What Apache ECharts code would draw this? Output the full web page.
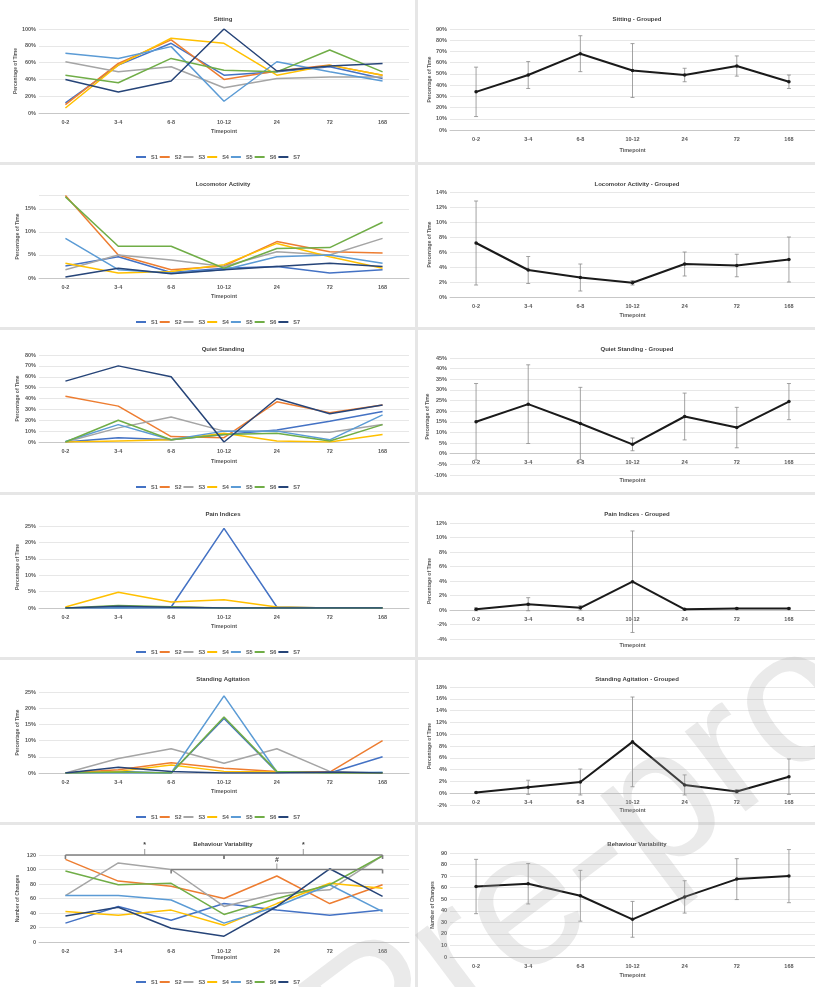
<!DOCTYPE html>
<html>
<head>
<meta charset="utf-8">
<script src="https://cdn.jsdelivr.net/npm/echarts@6/dist/echarts.min.js"></script>
<style>
  html, body { margin: 0; padding: 0; background: #ffffff; }
  #chart { width: 815px; height: 987px; }
</style>
</head>
<body>
<div id="chart"></div>
<script>
// ---- categories and subjects ----
const timepoints = ['0-2', '3-4', '6-8', '10-12', '24', '72', '168'];
const subjects = ['S1', 'S2', 'S3', 'S4', 'S5', 'S6', 'S7'];

// ---- individual subjects (one row per subject S1..S7), % of time ----
const sitting = [
  [12, 57, 83, 45, 49, 55, 41],
  [10, 59, 87, 40, 50, 57, 45],
  [61, 49, 55, 30, 41, 43, 43],
  [6, 57, 89, 83, 45, 57, 45],
  [71, 65, 79, 14, 61, 49, 38],
  [45, 36, 65, 51, 49, 75, 49],
  [40, 25, 38, 100, 50, 56, 59]
];
const locomotor = [
  [2.6, 4.6, 1.2, 2.1, 2.5, 1.1, 1.8],
  [17.9, 5.0, 1.8, 2.6, 7.9, 5.7, 5.4],
  [1.8, 5.0, 3.9, 2.5, 5.7, 5.0, 8.6],
  [3.2, 1.1, 1.4, 2.9, 7.5, 4.6, 2.1],
  [8.6, 1.8, 1.1, 1.8, 4.6, 5.0, 3.2],
  [17.6, 6.9, 6.9, 2.1, 6.4, 6.6, 12.1],
  [0.2, 2.1, 0.9, 1.8, 2.5, 3.2, 2.5]
];
const quietStanding = [
  [0, 4, 2, 7, 11, 19, 28],
  [42, 33, 5, 4, 37, 27, 34],
  [0, 13, 23, 10, 10, 9, 16],
  [0, 1, 2, 8, 1, 0, 7],
  [0.5, 16, 2, 10, 10, 2, 25],
  [0, 20, 2, 7, 8, 1, 16],
  [56, 70, 60, 0, 40, 26, 34]
];
const painIndices = [
  [0, 0, 0.3, 24.3, 0.3, 0, 0],
  [0, 0.3, 0.2, 0, 0, 0, 0],
  [0, 0.2, 0.1, 0, 0, 0, 0],
  [0.3, 4.8, 1.8, 2.5, 0.3, 0, 0],
  [0, 0.1, 0, 0, 0, 0, 0],
  [0, 0.8, 0.4, 0, 0, 0, 0],
  [0, 0.5, 0.2, 0, 0, 0, 0]
];
const standingAgitation = [
  [0, 0.5, 0, 16.8, 0.3, 0, 5],
  [0, 1, 3.2, 1.5, 0.5, 0.3, 10],
  [0, 4.5, 7.5, 3, 7.5, 0.5, 0],
  [0, 0.5, 2.5, 0.5, 0.3, 0, 0],
  [0, 0, 0, 23.8, 0.3, 0, 0.2],
  [0, 0.3, 0, 17.3, 0.5, 0, 0],
  [0, 1.8, 0.5, 0, 0, 0.3, 0]
];
const behaviourVariability = [
  [26, 49, 30, 53, 44, 37, 44],
  [114, 84, 77, 60, 91, 53, 79],
  [64, 109, 100, 49, 67, 72, 119],
  [42, 37, 44, 23, 53, 81, 74],
  [64, 64, 58, 26, 49, 79, 42],
  [98, 79, 81, 38, 60, 79, 119],
  [36, 48, 19, 8, 49, 101, 63]
];

// ---- grouped means and error bar half-widths ----
const sittingMean = [34, 49, 68, 53, 49, 57, 43];
const sittingErr = [22, 12, 16, 24, 6, 9, 6];
const locomotorMean = [7.2, 3.6, 2.6, 1.9, 4.4, 4.2, 5.0];
const locomotorErr = [5.6, 1.8, 1.8, 0.3, 1.6, 1.5, 3.0];
const quietMean = [15, 23.3, 14.2, 4.4, 17.5, 12.3, 24.5];
const quietErr = [18, 18.5, 17, 3, 11, 9.5, 8.5];
const painMean = [0.1, 0.8, 0.3, 3.9, 0.1, 0.2, 0.2];
const painErr = [0.2, 0.9, 0.3, 7, 0.1, 0.1, 0.1];
const agitationMean = [0.1, 1.0, 1.9, 8.7, 1.4, 0.3, 2.8];
const agitationErr = [0.1, 1.2, 2.2, 7.6, 1.7, 0.3, 3.0];
const variabilityMean = [61, 63.4, 53, 32.6, 52, 67.4, 70];
const variabilityErr = [23.5, 17.5, 22, 15.5, 14, 17.7, 23];

// significance brackets: [from category, to category, level]
const variabilityBrackets = [[0, 3, 120], [3, 6, 120], [2, 6, 100]];
const variabilityMarks = ['*', '*', '#'];

// ---- axis ranges [min, max, interval] ----
const sittingAxis = [0, 100, 20];
const locomotorAxis = [0, 18, 5];
const quietAxis = [0, 80, 10];
const painAxis = [0, 25, 5];
const agitationAxis = [0, 25, 5];
const variabilityAxis = [0, 120, 20];
const sittingGroupedAxis = [0, 90, 10];
const locomotorGroupedAxis = [0, 14, 2];
const quietGroupedAxis = [-10, 45, 5];
const painGroupedAxis = [-4, 12, 2];
const agitationGroupedAxis = [-2, 18, 2];
const variabilityGroupedAxis = [0, 90, 10];

// ---- styling / layout ----
const subjectColors = ['#4472C4', '#ED7D31', '#A5A5A5', '#FFC000', '#5B9BD5', '#70AD47', '#264478'];
const FONT = 'Liberation Sans';
const TEXT = '#595959';
const GRID_LINE = '#dcdcdc';
const rowTops = [0, 165, 330, 495, 660, 825];
const leftPlot = [[29, 113], [195, 278], [355, 442], [526, 608], [692, 773], [855, 942]];
const rightPlot = [[29, 130], [192, 297], [358, 475], [523, 639], [687, 805], [853, 957]];
const LEFT_X = 39, LEFT_W = 370, RIGHT_X = 450, RIGHT_W = 373;

const leftPanels = [
  { title: 'Sitting', rows: sitting, axis: sittingAxis, pct: true },
  { title: 'Locomotor Activity', rows: locomotor, axis: locomotorAxis, pct: true, hideMax: true },
  { title: 'Quiet Standing', rows: quietStanding, axis: quietAxis, pct: true },
  { title: 'Pain Indices', rows: painIndices, axis: painAxis, pct: true },
  { title: 'Standing Agitation', rows: standingAgitation, axis: agitationAxis, pct: true },
  { title: 'Behaviour Variability', rows: behaviourVariability, axis: variabilityAxis, pct: false }
];
const rightPanels = [
  { title: 'Sitting - Grouped', mean: sittingMean, err: sittingErr, axis: sittingGroupedAxis, pct: true },
  { title: 'Locomotor Activity - Grouped', mean: locomotorMean, err: locomotorErr, axis: locomotorGroupedAxis, pct: true },
  { title: 'Quiet Standing - Grouped', mean: quietMean, err: quietErr, axis: quietGroupedAxis, pct: true },
  { title: 'Pain Indices - Grouped', mean: painMean, err: painErr, axis: painGroupedAxis, pct: true },
  { title: 'Standing Agitation - Grouped', mean: agitationMean, err: agitationErr, axis: agitationGroupedAxis, pct: true },
  { title: 'Behaviour Variability', mean: variabilityMean, err: variabilityErr, axis: variabilityGroupedAxis, pct: false }
];

const titles = [], grids = [], xAxes = [], yAxes = [], series = [], legends = [];

// the category axis sits on the zero line: shift it up from the grid bottom by offset
function addAxes(gridIdx, axis, pct, hideMax, xNameGap, labelMargin, nameGapY, xOffset) {
  xAxes.push({
    type: 'category', gridIndex: gridIdx, data: timepoints, boundaryGap: true,
    offset: xOffset,
    name: 'Timepoint', nameLocation: 'middle', nameGap: xNameGap,
    nameTextStyle: { fontFamily: FONT, fontSize: 5.5, fontWeight: 'bold', color: TEXT },
    axisLine: { onZero: false, lineStyle: { color: '#bfbfbf', width: 0.8 } },
    axisTick: { show: false },
    axisLabel: { fontFamily: FONT, fontSize: 5.5, fontWeight: 'bold', color: TEXT, margin: labelMargin, interval: 0 }
  });
  yAxes.push({
    type: 'value', gridIndex: gridIdx, min: axis[0], max: axis[1], interval: axis[2],
    name: pct ? 'Percentage of Time' : 'Number of Changes',
    nameLocation: 'middle', nameGap: nameGapY, nameRotate: 90,
    nameTextStyle: { fontFamily: FONT, fontSize: 5, fontWeight: 'bold', color: TEXT },
    axisLine: { show: false }, axisTick: { show: false },
    axisLabel: {
      fontFamily: FONT, fontSize: 5.5, fontWeight: 'bold', color: TEXT, margin: 3,
      showMaxLabel: !hideMax,
      formatter: v => pct ? v + '%' : String(v)
    },
    splitLine: { lineStyle: { color: GRID_LINE, width: 0.7 } }
  });
}

// left column: individual subjects
leftPanels.forEach((p, r) => {
  const gi = grids.length;
  const [top, bottom] = leftPlot[r];
  titles.push({
    text: p.title, left: 218, top: rowTops[r] + 11, textAlign: 'center',
    textStyle: { fontFamily: FONT, fontSize: 6, fontWeight: 'bold', color: '#404040' }
  });
  grids.push({ left: LEFT_X, top: top, width: LEFT_W, height: bottom - top });
  addAxes(gi, p.axis, p.pct, p.hideMax, (rowTops[r] + 131) - bottom - 3, 6, 19, 0);
  p.rows.forEach((vals, s) => {
    series.push({
      type: 'line', name: subjects[s], xAxisIndex: gi, yAxisIndex: gi, data: vals,
      symbol: 'none', lineStyle: { width: 1.5, color: subjectColors[s] },
      itemStyle: { color: subjectColors[s] }, z: 2
    });
  });
  legends.push({
    data: subjects, left: 131, top: rowTops[r] + 149, itemWidth: 10, itemHeight: 2, itemGap: 2,
    icon: 'rect',
    textStyle: { fontFamily: FONT, fontSize: 5.5, fontWeight: 'bold', color: TEXT }
  });
});

// significance brackets over the behaviour variability panel
function renderBracket(params, api) {
  const a = api.coord([api.value(0), api.value(2)]);
  const b = api.coord([api.value(1), api.value(2)]);
  const mid = (a[0] + b[0]) / 2;
  const st = { stroke: '#7f7f7f', lineWidth: 1.6 };
  return {
    type: 'group', children: [
      { type: 'line', shape: { x1: a[0], y1: a[1], x2: b[0], y2: b[1] }, style: st },
      { type: 'line', shape: { x1: a[0], y1: a[1], x2: a[0], y2: a[1] + 4 }, style: st },
      { type: 'line', shape: { x1: b[0], y1: b[1], x2: b[0], y2: b[1] + 4 }, style: st },
      { type: 'line', shape: { x1: mid, y1: a[1], x2: mid, y2: a[1] - 6 }, style: { stroke: '#7f7f7f', lineWidth: 0.8 } },
      { type: 'text', x: mid, y: a[1] - 6, style: {
          text: variabilityMarks[params.dataIndex], fill: '#404040', fontFamily: FONT,
          fontSize: 7, fontWeight: 'bold', align: 'center', verticalAlign: 'bottom' } }
    ]
  };
}
series.push({
  type: 'custom', name: 'brackets', xAxisIndex: 5, yAxisIndex: 5,
  data: variabilityBrackets, renderItem: renderBracket, clip: false, z: 5,
  encode: { x: [0, 1], y: 2 }
});

// error bars for grouped panels
function renderErrorBar(params, api) {
  const x = api.value(0), m = api.value(1), e = api.value(2);
  const hi = api.coord([x, m + e]);
  const lo = api.coord([x, m - e]);
  const cap = 2;
  const st = { stroke: '#8c8c8c', lineWidth: 0.8 };
  return {
    type: 'group', children: [
      { type: 'line', shape: { x1: hi[0], y1: hi[1], x2: lo[0], y2: lo[1] }, style: st },
      { type: 'line', shape: { x1: hi[0] - cap, y1: hi[1], x2: hi[0] + cap, y2: hi[1] }, style: st },
      { type: 'line', shape: { x1: lo[0] - cap, y1: lo[1], x2: lo[0] + cap, y2: lo[1] }, style: st }
    ]
  };
}

// right column: grouped means
rightPanels.forEach((p, r) => {
  const gi = grids.length;
  const [top, bottom] = rightPlot[r];
  const zeroY = top + (p.axis[1] / (p.axis[1] - p.axis[0])) * (bottom - top);
  titles.push({
    text: p.title, left: 632, top: rowTops[r] + 11, textAlign: 'center',
    textStyle: { fontFamily: FONT, fontSize: 6, fontWeight: 'bold', color: '#404040' }
  });
  grids.push({ left: RIGHT_X, top: top, width: RIGHT_W, height: bottom - top });
  addAxes(gi, p.axis, p.pct, false, (rowTops[r] + 150) - zeroY - 3, 6, 15, -(bottom - zeroY));
  series.push({
    type: 'custom', name: p.title + ' error', xAxisIndex: gi, yAxisIndex: gi,
    data: p.mean.map((m, i) => [i, m, p.err[i]]), renderItem: renderErrorBar,
    encode: { x: 0, y: 1 }, z: 2
  });
  series.push({
    type: 'line', name: p.title, xAxisIndex: gi, yAxisIndex: gi, data: p.mean,
    symbol: 'circle', symbolSize: 3.5,
    lineStyle: { width: 2, color: '#1a1a1a' }, itemStyle: { color: '#1a1a1a' }, z: 3
  });
});

// panel separators and the watermark
const graphics = [];
rowTops.slice(1).forEach(y => {
  graphics.push({ type: 'rect', shape: { x: 0, y: y - 3, width: 815, height: 3 },
    style: { fill: '#e6e6e6' }, z: 1, silent: true });
});
graphics.push({ type: 'rect', shape: { x: 415, y: 0, width: 3, height: 987 },
  style: { fill: '#e6e6e6' }, z: 1, silent: true });
graphics.push({
  type: 'text', x: -150, y: 1540, rotation: 0.646, silent: true, z: 100,
  style: { text: 'Journal Pre-proof', fontFamily: FONT, fontSize: 190,
    fill: 'rgba(170,170,170,0.25)', align: 'left', verticalAlign: 'bottom' }
});

const chart = echarts.init(document.getElementById('chart'), null, { renderer: 'canvas' });
chart.setOption({
  animation: false,
  backgroundColor: '#ffffff',
  title: titles,
  grid: grids,
  xAxis: xAxes,
  yAxis: yAxes,
  legend: legends,
  series: series,
  graphic: graphics
});
</script>
</body>
</html>
